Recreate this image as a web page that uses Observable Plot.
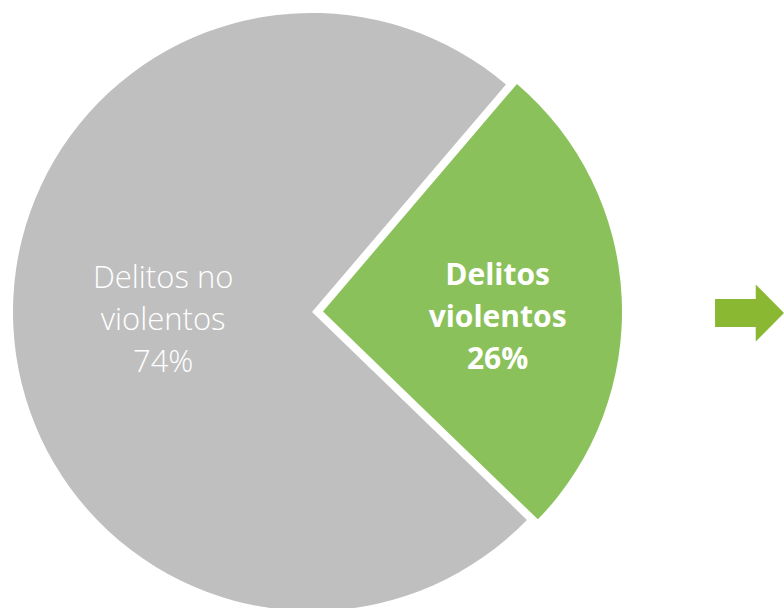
<!DOCTYPE html>
<html><head><meta charset="utf-8">
<script src="https://cdn.jsdelivr.net/npm/d3@7"></script>
<script src="https://cdn.jsdelivr.net/npm/@observablehq/plot@0.6"></script>
<style>
  html,body{margin:0;padding:0;background:#fff;}
  #chart svg{display:block;}
</style>
</head><body><div id="chart"></div>
<script>
// ---- data ----
const categories = ["Delitos no violentos", "Delitos violentos"];
const labels = ["Delitos no\nviolentos\n74%", "Delitos\nviolentos\n26%"];
const values = [74, 26];
const colors = ["#BFBFBF", "#8BC15B"];
const exploded = [false, true];
const arrowColor = "#8AB833";

// ---- layout ----
const W = 784, H = 608;
const R = 299, CX = 312, CY = 312;       // pie radius and centre in px
const explode = 11 / R;                   // offset of exploded slice (in radii)
const startDeg = 134.05;

const rows = categories.map((c, i) => ({category: c, value: values[i], label: labels[i], color: colors[i], exploded: exploded[i]}));
const arcs = d3.pie().sort(null).value(d => d.value)
  .startAngle(startDeg * Math.PI / 180)
  .endAngle(startDeg * Math.PI / 180 + 2 * Math.PI)(rows);

const mid = a => (a.startAngle + a.endAngle) / 2;
// label positions in data units (1 unit = pie radius), y pointing up
const labelPos = a => {
  const off = a.data.exploded ? explode : 0;
  const r = a.data.exploded ? 0.583 : 0.5;
  return {u: (off + r) * Math.sin(mid(a)), v: (off + r) * Math.cos(mid(a))};
};
const labelRows = arcs.map(a => ({...labelPos(a), label: a.data.label, exploded: a.data.exploded}));

function wedges(index, scales) {
  const x = scales.x, y = scales.y;
  const cx = x(0), cy = y(0), rr = x(1) - x(0);
  const g = d3.create("svg:g");
  const arcGen = d3.arc().innerRadius(0).outerRadius(rr);
  for (const a of arcs) {
    const off = a.data.exploded ? explode * rr : 0;
    const dx = off * Math.sin(mid(a)), dy = -off * Math.cos(mid(a));
    g.append("path")
      .attr("transform", `translate(${cx + dx},${cy + dy})`)
      .attr("d", arcGen(a))
      .attr("fill", a.data.color);
  }
  return g.node();
}

// block arrow to the right of the pie (start/end in data units)
const arrowStart = 1.348, arrowEnd = 1.5786, arrowV = 0.0;
function arrow(index, scales) {
  const x = scales.x, y = scales.y;
  const x0 = x(arrowStart), x1 = x(arrowEnd), cy = y(arrowV) + 1;
  const L = x1 - x0;
  const head = L * 0.41, shaftH = 28, headH = 57;
  const xh = x1 - head;
  const p = d3.path();
  p.moveTo(x0, cy - shaftH / 2);
  p.lineTo(xh, cy - shaftH / 2);
  p.lineTo(xh, cy - headH / 2);
  p.lineTo(x1, cy);
  p.lineTo(xh, cy + headH / 2);
  p.lineTo(xh, cy + shaftH / 2);
  p.lineTo(x0, cy + shaftH / 2);
  p.closePath();
  const el = d3.create("svg:path").attr("d", p.toString()).attr("fill", arrowColor);
  return el.node();
}

const font = "'Segoe UI', 'Open Sans', 'Noto Sans', sans-serif";
const chart = Plot.plot({
  width: W, height: H,
  margin: 0,
  x: {axis: null, domain: [-CX / R, (W - CX) / R], range: [0, W]},
  y: {axis: null, domain: [-(H - CY) / R, CY / R], range: [H, 0]},
  style: {background: "#fff", fontFamily: font},
  marks: [
    wedges,
    arrow,
    Plot.text(labelRows.filter(d => !d.exploded), {
      x: "u", y: "v", text: "label", fill: "white",
      fontSize: 31, fontWeight: 350, lineHeight: 1.36, dy: -3, fontFamily: font
    }),
    Plot.text(labelRows.filter(d => d.exploded), {
      x: "u", y: "v", text: "label", fill: "white",
      fontSize: 30, fontWeight: 700, lineHeight: 1.4, dy: 10, fontFamily: font
    })
  ]
});
document.getElementById("chart").appendChild(chart);
</script>
</body></html>
